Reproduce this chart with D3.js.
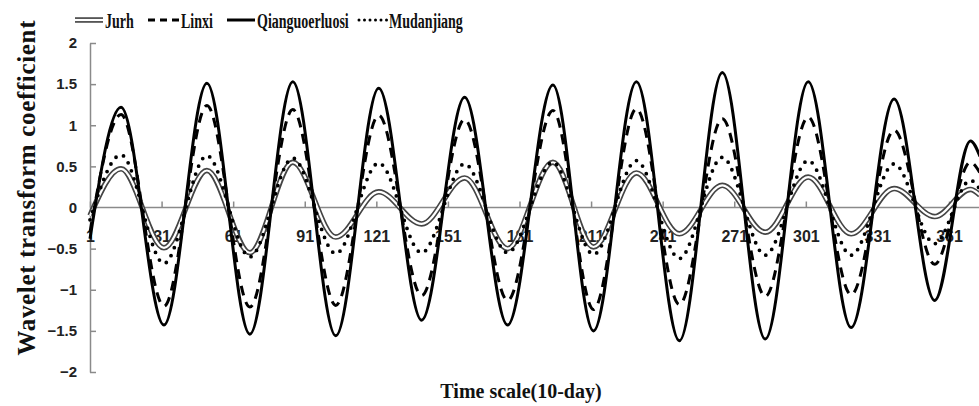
<!DOCTYPE html>
<html>
<head>
<meta charset="utf-8">
<script src="https://cdn.jsdelivr.net/npm/d3@7"></script>
<style>
  body { margin: 0; background: #fff; }
  svg { display: block; }
</style>
</head>
<body>
<div id="chart"></div>
<script>
// 10-day index of each turning point (start, peaks / troughs, last visible point)
let knots = [1, 14, 32, 50, 68, 86, 104, 122, 140, 158, 176, 195, 212, 230, 248, 266, 284, 302, 320, 338, 355, 370, 374];

let jurh          = [-0.10, 0.47, -0.49, 0.45, -0.55, 0.55, -0.36, 0.19, -0.20, 0.36, -0.50, 0.55, -0.48, 0.42, -0.32, 0.27, -0.30, 0.37, -0.32, 0.23, -0.11, 0.22, 0.15];
let linxi         = [-0.30, 1.13, -1.20, 1.24, -1.21, 1.19, -1.19, 1.12, -1.07, 1.07, -1.13, 1.18, -1.24, 1.20, -1.18, 1.08, -1.08, 1.10, -1.06, 0.94, -0.69, 0.55, 0.42];
let qianguoerluosi = [-0.38, 1.22, -1.43, 1.51, -1.54, 1.53, -1.56, 1.45, -1.37, 1.34, -1.43, 1.49, -1.50, 1.53, -1.62, 1.64, -1.60, 1.53, -1.46, 1.32, -1.13, 0.81, 0.62];
let mudanjiang    = [-0.15, 0.64, -0.68, 0.63, -0.60, 0.60, -0.56, 0.54, -0.55, 0.53, -0.55, 0.55, -0.57, 0.57, -0.62, 0.61, -0.58, 0.57, -0.58, 0.53, -0.44, 0.33, 0.22];

let xTicks = [1, 31, 61, 91, 121, 151, 181, 211, 241, 271, 301, 331, 361];
let yTicks = [-2, -1.5, -1, -0.5, 0, 0.5, 1, 1.5, 2];

let W = 979, H = 406;
let axisColor = "#8a8a8a";

let svg = d3.select("#chart").append("svg")
  .attr("width", W)
  .attr("height", H);

let x = d3.scaleLinear().domain([1, 361]).range([90, 949]);
let y = d3.scaleLinear().domain([-2, 2]).range([372, 43]);

// y axis, ticks pointing inside
let yAxis = svg.append("g")
  .attr("transform", "translate(" + x(1) + ",0)")
  .call(d3.axisLeft(y).tickValues(yTicks).tickSize(-6).tickSizeOuter(0).tickFormat(d3.format("")));
yAxis.select(".domain").attr("stroke", axisColor).attr("stroke-width", 1.5);
yAxis.selectAll(".tick line").attr("stroke", axisColor).attr("stroke-width", 1.5);
yAxis.selectAll(".tick text")
  .attr("x", -13)
  .attr("font-family", "Liberation Sans, Arial, sans-serif")
  .attr("font-weight", "bold")
  .attr("font-size", 15)
  .attr("fill", "#222");

// x axis sits on the zero line
let xAxis = svg.append("g")
  .attr("transform", "translate(0," + y(0) + ")")
  .call(d3.axisBottom(x).tickValues(xTicks).tickSize(-6).tickSizeOuter(0).tickFormat(d3.format("d")));
xAxis.select(".domain").attr("d", "M" + x(1) + ",0H" + W).attr("stroke", axisColor).attr("stroke-width", 1.5);
xAxis.selectAll(".tick line").attr("stroke", axisColor).attr("stroke-width", 1.5);
xAxis.selectAll(".tick text")
  .attr("y", 23)
  .attr("dy", "0.71em")
  .attr("font-family", "Liberation Sans, Arial, sans-serif")
  .attr("font-weight", "bold")
  .attr("font-size", 16)
  .attr("fill", "#222");

let line = d3.line()
  .x((d, i) => x(knots[i]))
  .y(d => y(d))
  .curve(d3.curveMonotoneX);

let plot = svg.append("g").attr("fill", "none");

// Jurh: double line = wide grey stroke with white core
plot.append("path").attr("d", line(jurh)).attr("stroke", "#444").attr("stroke-width", 5.5);
plot.append("path").attr("d", line(jurh)).attr("stroke", "#fff").attr("stroke-width", 2.2);

plot.append("path").attr("d", line(linxi))
  .attr("stroke", "#000").attr("stroke-width", 3).attr("stroke-dasharray", "10,7");

plot.append("path").attr("d", line(qianguoerluosi))
  .attr("stroke", "#000").attr("stroke-width", 3);

plot.append("path").attr("d", line(mudanjiang))
  .attr("stroke", "#000").attr("stroke-width", 3.8)
  .attr("stroke-linecap", "round").attr("stroke-dasharray", "0,8.5");

// legend
let legendY = 20;
let legend = svg.append("g").attr("fill", "none");
legend.append("line").attr("x1", 75).attr("x2", 103).attr("y1", legendY).attr("y2", legendY)
  .attr("stroke", "#444").attr("stroke-width", 5.5);
legend.append("line").attr("x1", 75).attr("x2", 103).attr("y1", legendY).attr("y2", legendY)
  .attr("stroke", "#fff").attr("stroke-width", 2.2);
legend.append("line").attr("x1", 148).attr("x2", 180).attr("y1", legendY).attr("y2", legendY)
  .attr("stroke", "#000").attr("stroke-width", 3).attr("stroke-dasharray", "7,5");
legend.append("line").attr("x1", 227).attr("x2", 255).attr("y1", legendY).attr("y2", legendY)
  .attr("stroke", "#000").attr("stroke-width", 3);
legend.append("line").attr("x1", 359).attr("x2", 387).attr("y1", legendY).attr("y2", legendY)
  .attr("stroke", "#000").attr("stroke-width", 3).attr("stroke-linecap", "round").attr("stroke-dasharray", "0,5.5");

// legend labels are narrow in the original, squeeze them horizontally
let legendText = [
  { name: "Jurh", x: 105 },
  { name: "Linxi", x: 181 },
  { name: "Qianguoerluosi", x: 257 },
  { name: "Mudanjiang", x: 389 }
];
svg.append("g").selectAll("text")
  .data(legendText).enter()
  .append("text")
    .attr("transform", d => "translate(" + d.x + ",28) scale(0.7,1)")
    .attr("font-family", "Liberation Serif, Times New Roman, serif")
    .attr("font-weight", "bold")
    .attr("font-size", 20)
    .attr("fill", "#111")
    .text(d => d.name);

// axis titles
svg.append("text")
  .attr("transform", "translate(35,188) rotate(-90)")
  .attr("text-anchor", "middle")
  .attr("textLength", 335)
  .attr("lengthAdjust", "spacing")
  .attr("font-family", "Liberation Serif, Times New Roman, serif")
  .attr("font-weight", "bold")
  .attr("font-size", 25)
  .attr("fill", "#111")
  .text("Wavelet transform coefficient");

svg.append("text")
  .attr("x", 521)
  .attr("y", 398)
  .attr("text-anchor", "middle")
  .attr("font-family", "Liberation Serif, Times New Roman, serif")
  .attr("font-weight", "bold")
  .attr("font-size", 20)
  .attr("fill", "#111")
  .text("Time scale(10-day)");
</script>
</body>
</html>
